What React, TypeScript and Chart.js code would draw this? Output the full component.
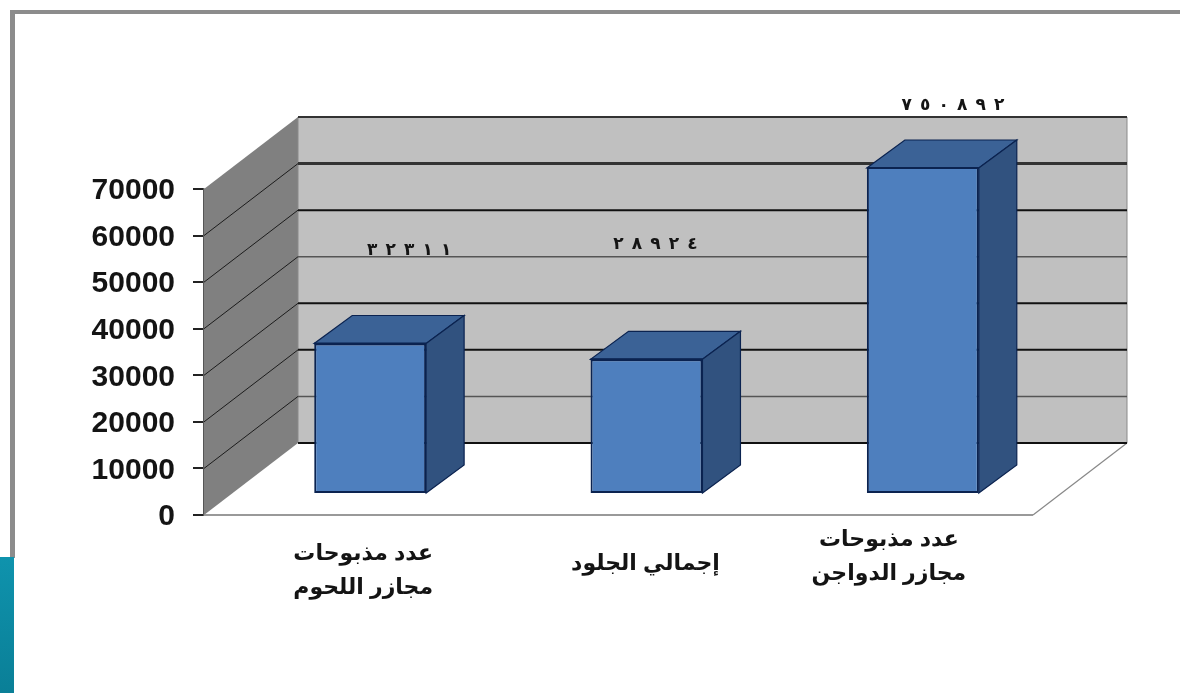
import React, { useEffect, useRef } from "react";
import { Chart, registerables } from "chart.js";

Chart.register(...registerables);

const categories = [
  ["عدد مذبوحات", "مجازر اللحوم"],
  ["إجمالي الجلود"],
  ["عدد مذبوحات", "مجازر الدواجن"],
];
const slaughterValues = [32311, 28924, 750892];
const valueLabels = ["٣٢٣١١", "٢٨٩٢٤", "٧٥٠٨٩٢"];
const tickStep = 10000;
const axisMax = 70000;

const WALL_DX = 94;
const WALL_DY = -72;
const BAR_DX = 28;
const BAR_DY = -21;
const FACE_DX = 38;
const FACE_DY = -28;
// nudges of the free text, relative to each category centre
const catLabelNudge = [[21, 553.5], [27, 564], [-6, 540]];
const valueLabelNudge = [[67, 251], [37, 245], [58, 106]];
const valueDigitPitch = 18.5;
const backLineWidths = [2, 1.4, 2, 2, 1.4, 2, 3, 2];
const backLineColors = ["#111", "#555", "#111", "#111", "#555", "#111", "#333", "#333"];

function poly(ctx: CanvasRenderingContext2D, pts: number[][], fill?: string, stroke?: string, lw = 1) {
  ctx.beginPath();
  pts.forEach((p, i) => (i ? ctx.lineTo(p[0], p[1]) : ctx.moveTo(p[0], p[1])));
  ctx.closePath();
  if (fill) { ctx.fillStyle = fill; ctx.fill(); }
  if (stroke) { ctx.strokeStyle = stroke; ctx.lineWidth = lw; ctx.stroke(); }
}

function line(ctx: CanvasRenderingContext2D, x1: number, y1: number, x2: number, y2: number, color: string, lw: number) {
  ctx.beginPath();
  ctx.moveTo(x1, y1);
  ctx.lineTo(x2, y2);
  ctx.strokeStyle = color;
  ctx.lineWidth = lw;
  ctx.stroke();
}

const scene3d = {
  id: "scene3d",
  beforeDraw(chart: any) {
    const { ctx, width, height } = chart;
    ctx.save();
    ctx.fillStyle = "#ffffff";
    ctx.fillRect(0, 0, width, height);
    ctx.fillStyle = "#8c8c8c";
    ctx.fillRect(10, 10, width - 10, 4);
    ctx.fillRect(10, 10, 5, 548);
    const g = ctx.createLinearGradient(0, 557, 0, 693);
    g.addColorStop(0, "#0f93ad");
    g.addColorStop(1, "#0a7f97");
    ctx.fillStyle = g;
    ctx.fillRect(0, 557, 14, height - 557);
    ctx.restore();
  },
  beforeDatasetsDraw(chart: any) {
    const { ctx, chartArea: a, scales } = chart;
    const y = scales.y;
    const l = a.left, r = a.right, t = a.top, b = a.bottom;
    ctx.save();
    // floor
    poly(ctx, [[l, b], [r, b], [r + WALL_DX, b + WALL_DY], [l + WALL_DX, b + WALL_DY]], "#ffffff");
    line(ctx, l, b, r, b, "#999999", 2);
    line(ctx, r, b, r + WALL_DX, b + WALL_DY, "#888888", 1.2);
    // walls
    poly(ctx, [[l, t], [l + WALL_DX, t + WALL_DY], [l + WALL_DX, b + WALL_DY], [l, b]], "#808080");
    poly(ctx, [[l + WALL_DX, t + WALL_DY], [r + WALL_DX, t + WALL_DY], [r + WALL_DX, b + WALL_DY], [l + WALL_DX, b + WALL_DY]], "#c0c0c0", "#8a8a8a", 1);
    // gridlines on both walls
    y.ticks.forEach((tick: any, i: number) => {
      const py = y.getPixelForValue(tick.value);
      line(ctx, l + WALL_DX, py + WALL_DY, r + WALL_DX, py + WALL_DY, backLineColors[i] ?? "#111", backLineWidths[i] ?? 2);
      if (i > 0 && i < y.ticks.length - 1) {
        line(ctx, l, py, l + WALL_DX, py + WALL_DY, "#1c1c1c", 1);
      }
    });
    ctx.restore();
  },
  beforeDatasetDraw(chart: any) {
    chart.ctx.save();
    chart.ctx.translate(BAR_DX, BAR_DY);
  },
  afterDatasetDraw(chart: any, args: any) {
    const { ctx, chartArea: a } = chart;
    const meta = chart.getDatasetMeta(args.index);
    meta.data.forEach((bar: any) => {
      const hw = bar.width / 2;
      const x0 = bar.x - hw, x1 = bar.x + hw;
      const top = Math.max(bar.y, a.top);
      const base = bar.base;
      poly(ctx, [[x0, top], [x1, top], [x1 + FACE_DX, top + FACE_DY], [x0 + FACE_DX, top + FACE_DY]], "#3b6296", "#0b2350", 1.2);
      poly(ctx, [[x1, top], [x1 + FACE_DX, top + FACE_DY], [x1 + FACE_DX, base + FACE_DY], [x1, base]], "#31527f", "#0b2350", 1.2);
      line(ctx, x0, top, x1, top, "#0b2350", 2);
    });
    ctx.restore();
  },
  afterDatasetsDraw(chart: any) {
    const { ctx, scales } = chart;
    const x = scales.x;
    ctx.save();
    ctx.fillStyle = "#141414";
    ctx.textAlign = "center";
    ctx.textBaseline = "middle";
    ctx.font = 'bold 22px "Liberation Sans", "DejaVu Sans", sans-serif';
    categories.forEach((lines, i) => {
      const cx = x.getPixelForValue(i) + catLabelNudge[i][0];
      lines.forEach((text, k) => ctx.fillText(text, cx, catLabelNudge[i][1] + k * 34));
    });
    ctx.font = 'bold 17px "DejaVu Sans", sans-serif';
    valueLabels.forEach((text, i) => {
      const digits = Array.from(text);
      const cx = x.getPixelForValue(i) + valueLabelNudge[i][0];
      digits.forEach((d, k) => {
        ctx.fillText(d, cx + (k - (digits.length - 1) / 2) * valueDigitPitch, valueLabelNudge[i][1]);
      });
    });
    ctx.restore();
  },
};

export default function App() {
  const ref = useRef<HTMLCanvasElement | null>(null);
  useEffect(() => {
    document.body.style.margin = "0";
    document.body.style.background = "#ffffff";
    const chart = new Chart(ref.current as HTMLCanvasElement, {
      type: "bar",
      data: {
        labels: categories.map((c) => c.join(" ")),
        datasets: [
          {
            data: slaughterValues,
            backgroundColor: "#4e7fbe",
            borderColor: "#0b2350",
            borderWidth: 2,
            borderSkipped: false,
            barPercentage: 0.405,
            categoryPercentage: 1,
          },
        ],
      },
      options: {
        responsive: false,
        animation: false,
        devicePixelRatio: 1,
        layout: { padding: { left: 0, right: 147, top: 189, bottom: 178 } },
        plugins: { legend: { display: false }, title: { display: false }, tooltip: { enabled: false } },
        scales: {
          x: {
            grid: { display: false },
            border: { display: false },
            ticks: { display: false },
            afterFit(scale: any) { scale.height = 0; },
          },
          y: {
            min: 0,
            max: axisMax,
            afterFit(scale: any) { scale.width = 204; },
            grid: { drawOnChartArea: false, drawTicks: true, tickLength: 11, tickColor: "#222222", lineWidth: 2 },
            border: { display: true, color: "#555555", width: 1.5 },
            ticks: {
              stepSize: tickStep,
              padding: 18,
              labelOffset: 2,
              color: "#141414",
              callback: (v: number) => String(v),
              font: { family: '"Liberation Sans", Arial, sans-serif', size: 30, weight: "bold" },
            },
          },
        },
      },
      plugins: [scene3d],
    } as any);
    return () => chart.destroy();
  }, []);
  return (
    <canvas
      ref={ref}
      width={1180}
      height={693}
      style={{ display: "block", width: 1180, height: 693, filter: "blur(0.5px)" }}
    />
  );
}
